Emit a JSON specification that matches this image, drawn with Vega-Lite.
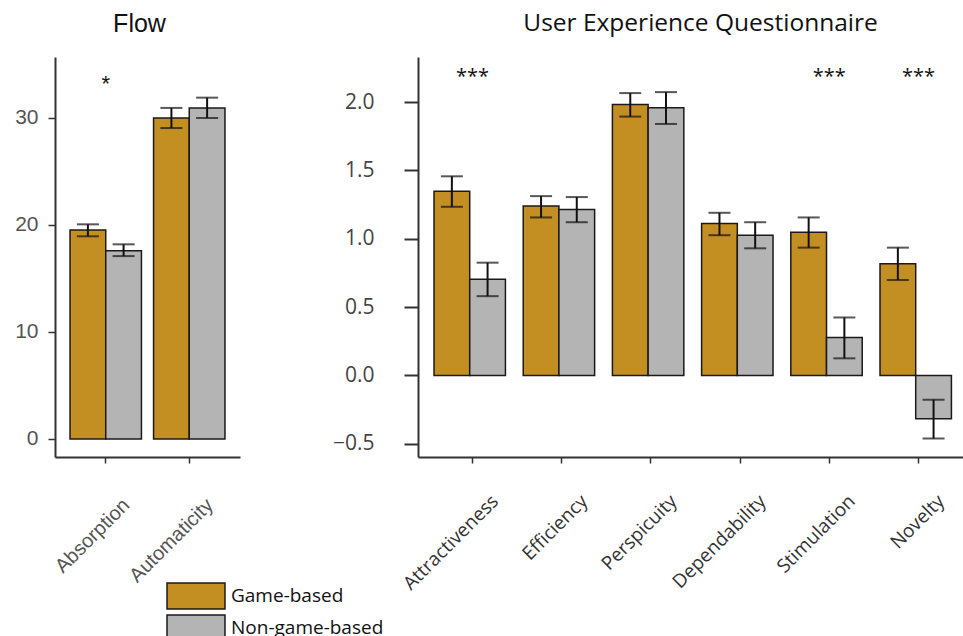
{
  "$schema": "https://vega.github.io/schema/vega-lite/v6.json",
  "padding": {"left": 14, "top": 10, "right": 0, "bottom": 0},
  "background": "white",
  "spacing": 92,
  "config": {
    "view": {"stroke": null},
    "scale": {"bandWithNestedOffsetPaddingInner": 0.14, "bandWithNestedOffsetPaddingOuter": 0.15},
    "legend": {
      "orient": "none",
      "legendX": 127,
      "legendY": 525,
      "title": null,
      "padding": 0,
      "rowPadding": 0,
      "symbolType": "M-2.23,-1L2.23,-1L2.23,1L-2.23,1Z",
      "symbolSize": 676,
      "symbolStrokeColor": "#1a1a1a",
      "symbolStrokeWidth": 1.5,
      "symbolOpacity": 1,
      "labelOffset": 21,
      "labelFont": "Open Sans",
      "labelFontSize": 19,
      "labelColor": "#111111"
    }
  },
  "hconcat": [
    {
      "width": 185,
      "height": 400,
      "title": {"text": "Flow", "font": "Liberation Sans", "fontSize": 25, "fontWeight": "normal", "color": "#111111", "anchor": "middle", "frame": "group", "baseline": "alphabetic", "offset": 0, "dx": -8},
      "data": {"values": [
        {"measure": "Absorption", "group": "Game-based", "mean": 19.53, "lo": 18.94, "hi": 20.06},
        {"measure": "Absorption", "group": "Non-game-based", "mean": 17.59, "lo": 17.09, "hi": 18.19},
        {"measure": "Automaticity", "group": "Game-based", "mean": 30.0, "lo": 29.06, "hi": 30.94},
        {"measure": "Automaticity", "group": "Non-game-based", "mean": 30.94, "lo": 30.0, "hi": 31.9}
      ]},
      "encoding": {
        "x": {"field": "measure", "type": "nominal", "sort": ["Absorption", "Automaticity"], "title": null,
          "scale": {"paddingInner": 0.145, "paddingOuter": 0.18},
          "axis": {"labelAngle": -45, "labelAlign": "right", "labelBaseline": "alphabetic", "labelFont": "Liberation Sans", "labelFontSize": 20, "labelColor": "#555555", "tickSize": 6, "tickWidth": 1.5, "tickColor": "#333333", "domainWidth": 2, "domainColor": "#333333", "labelPadding": 43, "labelOffset": 25}},
        "xOffset": {"field": "group", "type": "nominal", "sort": ["Game-based", "Non-game-based"], "scale": {"paddingInner": 0, "paddingOuter": 0}}
      },
      "layer": [
        {
          "mark": {"type": "bar", "stroke": "#1a1a1a", "strokeWidth": 1.5},
          "encoding": {
            "y": {"field": "mean", "type": "quantitative", "title": null,
              "scale": {"domain": [-1.69, 35.7], "nice": false, "zero": false},
              "axis": {"values": [0, 10, 20, 30], "grid": false, "labelFont": "Liberation Sans", "labelFontSize": 21, "labelColor": "#555555", "tickSize": 7, "tickWidth": 1.5, "tickColor": "#333333", "domainWidth": 2, "domainColor": "#333333", "labelPadding": 10}},
            "y2": {"datum": 0},
            "color": {"field": "group", "type": "nominal", "sort": ["Game-based", "Non-game-based"],
              "scale": {"domain": ["Game-based", "Non-game-based"], "range": ["#C48F22", "#B4B4B4"]}}
          }
        },
        {
          "mark": {"type": "rule", "color": "#111111", "strokeWidth": 2},
          "encoding": {"y": {"field": "lo", "type": "quantitative"}, "y2": {"field": "hi"}}
        },
        {
          "mark": {"type": "tick", "color": "#111111", "thickness": 2, "size": 22, "orient": "horizontal"},
          "encoding": {"y": {"field": "lo", "type": "quantitative"}}
        },
        {
          "mark": {"type": "tick", "color": "#111111", "thickness": 2, "size": 22, "orient": "horizontal"},
          "encoding": {"y": {"field": "hi", "type": "quantitative"}}
        },
        {
          "data": {"values": [{"measure": "Absorption", "label": "*", "pos": 33.2}]},
          "mark": {"type": "text", "font": "Liberation Sans", "fontSize": 22, "color": "#111111", "baseline": "middle"},
          "encoding": {"xOffset": null, "y": {"field": "pos", "type": "quantitative"}, "text": {"field": "label"}}
        }
      ]
    },
    {
      "width": 545,
      "height": 400,
      "title": {"text": "User Experience Questionnaire", "font": "Open Sans", "fontSize": 24.5, "fontWeight": "normal", "color": "#111111", "anchor": "middle", "frame": "group", "baseline": "alphabetic", "offset": 2, "dx": 10},
      "data": {"values": [
        {"measure": "Attractiveness", "group": "Game-based", "mean": 1.347, "lo": 1.234, "hi": 1.457},
        {"measure": "Attractiveness", "group": "Non-game-based", "mean": 0.703, "lo": 0.58, "hi": 0.825},
        {"measure": "Efficiency", "group": "Game-based", "mean": 1.239, "lo": 1.156, "hi": 1.312},
        {"measure": "Efficiency", "group": "Non-game-based", "mean": 1.214, "lo": 1.121, "hi": 1.305},
        {"measure": "Perspicuity", "group": "Game-based", "mean": 1.983, "lo": 1.894, "hi": 2.066},
        {"measure": "Perspicuity", "group": "Non-game-based", "mean": 1.958, "lo": 1.84, "hi": 2.073},
        {"measure": "Dependability", "group": "Game-based", "mean": 1.111, "lo": 1.026, "hi": 1.19},
        {"measure": "Dependability", "group": "Non-game-based", "mean": 1.026, "lo": 0.93, "hi": 1.121},
        {"measure": "Stimulation", "group": "Game-based", "mean": 1.048, "lo": 0.935, "hi": 1.156},
        {"measure": "Stimulation", "group": "Non-game-based", "mean": 0.277, "lo": 0.125, "hi": 0.424},
        {"measure": "Novelty", "group": "Game-based", "mean": 0.818, "lo": 0.698, "hi": 0.935},
        {"measure": "Novelty", "group": "Non-game-based", "mean": -0.318, "lo": -0.462, "hi": -0.178}
      ]},
      "encoding": {
        "x": {"field": "measure", "type": "nominal", "sort": ["Attractiveness", "Efficiency", "Perspicuity", "Dependability", "Stimulation", "Novelty"], "title": null,
          "scale": {"paddingInner": 0.137, "paddingOuter": 0.1235, "align": 0.727},
          "axis": {"labelAngle": -45, "labelAlign": "right", "labelBaseline": "alphabetic", "labelFont": "Open Sans", "labelFontSize": 19, "labelColor": "#333333", "tickSize": 6, "tickWidth": 1.5, "tickColor": "#333333", "domainWidth": 2, "domainColor": "#333333", "labelPadding": 39, "labelOffset": 27}},
        "xOffset": {"field": "group", "type": "nominal", "sort": ["Game-based", "Non-game-based"], "scale": {"paddingInner": 0, "paddingOuter": 0}}
      },
      "layer": [
        {
          "mark": {"type": "bar", "stroke": "#1a1a1a", "strokeWidth": 1.5},
          "encoding": {
            "y": {"field": "mean", "type": "quantitative", "title": null,
              "scale": {"domain": [-0.597, 2.33], "nice": false, "zero": false},
              "axis": {"values": [-0.5, 0, 0.5, 1, 1.5, 2], "format": ".1f", "grid": false, "labelFont": "Open Sans", "labelFontSize": 21, "labelColor": "#444444", "tickSize": 14, "tickWidth": 2, "tickColor": "#333333", "domainWidth": 2, "domainColor": "#333333", "labelPadding": 30}},
            "y2": {"datum": 0},
            "color": {"field": "group", "type": "nominal", "sort": ["Game-based", "Non-game-based"],
              "scale": {"domain": ["Game-based", "Non-game-based"], "range": ["#C48F22", "#B4B4B4"]}}
          }
        },
        {
          "mark": {"type": "rule", "color": "#111111", "strokeWidth": 2},
          "encoding": {"y": {"field": "lo", "type": "quantitative"}, "y2": {"field": "hi"}}
        },
        {
          "mark": {"type": "tick", "color": "#111111", "thickness": 2, "size": 22, "orient": "horizontal"},
          "encoding": {"y": {"field": "lo", "type": "quantitative"}}
        },
        {
          "mark": {"type": "tick", "color": "#111111", "thickness": 2, "size": 22, "orient": "horizontal"},
          "encoding": {"y": {"field": "hi", "type": "quantitative"}}
        },
        {
          "data": {"values": [
            {"measure": "Attractiveness", "label": "***", "pos": 2.18},
            {"measure": "Stimulation", "label": "***", "pos": 2.18},
            {"measure": "Novelty", "label": "***", "pos": 2.18}
          ]},
          "mark": {"type": "text", "font": "Open Sans", "fontSize": 20, "color": "#111111", "baseline": "middle"},
          "encoding": {"xOffset": null, "y": {"field": "pos", "type": "quantitative"}, "text": {"field": "label"}}
        }
      ]
    }
  ]
}
